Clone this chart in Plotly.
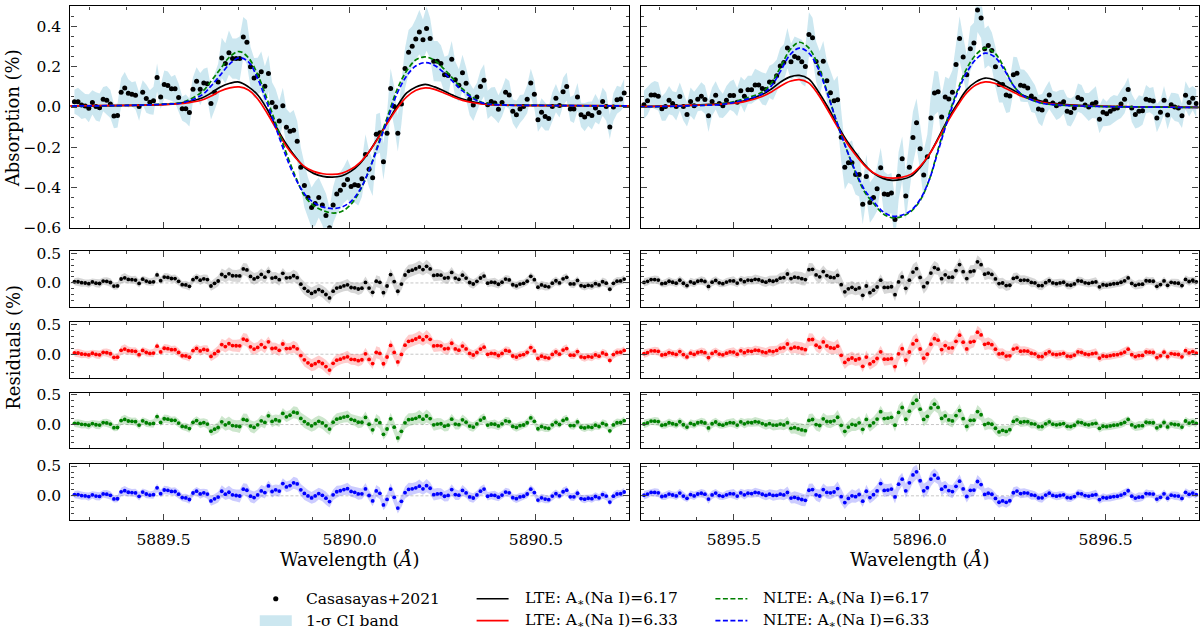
import numpy as np
import plotly.graph_objects as go

W, H = 1200, 638

# ---------------- data ----------------
LEFT_START, RIGHT_START, STEP = 5889.2607, 5895.2580, 0.00965
LEFT_CENTER, RIGHT_CENTER = 5889.953, 5895.926

LEFT_FLUX = [
    0.026, 0.026, 0.010, 0.005, -0.006, 0.023, 0.003, -0.003, 0.039, 0.034,
    0.015, -0.045, -0.042, 0.074, 0.094, 0.068, 0.063, 0.058, 0.002, 0.073,
    0.042, 0.024, 0.031, 0.147, 0.050, 0.112, 0.107, 0.091, 0.091, 0.047,
    -0.008, -0.008, -0.027, 0.089, 0.128, 0.089, 0.120, 0.116, 0.018, 0.074,
    0.125, 0.244, 0.217, 0.270, 0.241, 0.241, 0.241, 0.348, 0.322, 0.200,
    0.144, 0.155, 0.176, 0.103, 0.167, 0.023, 0.000, -0.070, 0.006, -0.100,
    -0.120, -0.115, -0.170, -0.300, -0.390, -0.450, -0.500, -0.480, -0.450, -0.487,
    -0.540, -0.600, -0.487, -0.433, -0.414, -0.386, -0.360, -0.395, -0.386, -0.390,
    -0.357, -0.236, -0.309, -0.352, -0.136, -0.128, -0.272, -0.130, 0.092, 0.002,
    -0.131, 0.015, 0.192, 0.273, 0.302, 0.338, 0.373, 0.335, 0.390, 0.341,
    0.228, 0.228, 0.217, 0.160, 0.157, 0.238, 0.136, 0.108, 0.170, 0.118,
    0.039, 0.010, 0.050, 0.102, 0.133, 0.011, 0.027, 0.020, -0.011, 0.023,
    0.074, 0.060, -0.021, -0.039, -0.010, 0.002, 0.039, 0.120, 0.063, -0.063,
    -0.026, -0.047, -0.057, 0.003, 0.044, 0.008, 0.076, 0.102, -0.010, -0.010,
    0.050, -0.039, -0.050, -0.034, -0.042, -0.005, -0.027, 0.027, 0.002, -0.099,
    0.000, 0.036, 0.040, 0.070]

LEFT_ERR = [
    0.06, 0.07, 0.07, 0.06, 0.07, 0.06, 0.07, 0.07, 0.06, 0.07, 0.07, 0.06, 0.06, 0.07, 0.08, 0.07, 0.06, 0.07, 0.07, 0.06,
    0.07, 0.06, 0.07, 0.07, 0.06, 0.07, 0.07, 0.06, 0.07, 0.07, 0.06, 0.07, 0.07, 0.06, 0.07, 0.08, 0.07, 0.08, 0.08, 0.09,
    0.09, 0.10, 0.10, 0.11, 0.10, 0.10, 0.11, 0.10, 0.11, 0.10, 0.10, 0.09, 0.10, 0.10, 0.09, 0.10, 0.09, 0.10, 0.09, 0.09,
    0.09, 0.10, 0.10, 0.10, 0.11, 0.10, 0.10, 0.11, 0.10, 0.10, 0.11, 0.10, 0.09, 0.10, 0.09, 0.09, 0.10, 0.09, 0.09, 0.10,
    0.09, 0.10, 0.09, 0.09, 0.10, 0.10, 0.09, 0.10, 0.10, 0.10, 0.09, 0.10, 0.10, 0.11, 0.10, 0.10, 0.11, 0.10, 0.11, 0.10,
    0.10, 0.10, 0.09, 0.09, 0.10, 0.09, 0.09, 0.08, 0.09, 0.08, 0.08, 0.08, 0.07, 0.08, 0.08, 0.07, 0.07, 0.08, 0.07, 0.07,
    0.07, 0.07, 0.06, 0.07, 0.07, 0.06, 0.07, 0.07, 0.07, 0.06, 0.07, 0.07, 0.06, 0.07, 0.07, 0.06, 0.07, 0.07, 0.06, 0.07,
    0.07, 0.06, 0.07, 0.06, 0.07, 0.07, 0.06, 0.07, 0.07, 0.06, 0.07, 0.07, 0.06, 0.07]

RIGHT_FLUX = [
    0.011, 0.031, 0.060, 0.060, 0.053, -0.008, 0.002, 0.034, 0.018, 0.003,
    0.052, 0.002, -0.037, 0.027, 0.006, 0.039, 0.053, 0.037, -0.044, 0.027,
    0.058, 0.018, 0.006, 0.034, 0.057, 0.057, 0.024, 0.081, 0.053, 0.086,
    0.086, 0.110, 0.110, 0.092, 0.087, 0.125, 0.125, 0.155, 0.204, 0.222,
    0.293, 0.225, 0.251, 0.244, 0.225, 0.202, 0.361, 0.344, 0.226, 0.168,
    0.228, 0.131, 0.071, 0.031, 0.036, -0.150, -0.300, -0.277, -0.277, -0.335,
    -0.335, -0.483, -0.346, -0.475, -0.450, -0.407, -0.302, -0.432, -0.435, -0.428,
    -0.560, -0.344, -0.257, -0.443, -0.300, -0.152, -0.078, -0.207, -0.338, -0.247,
    -0.055, 0.070, 0.076, -0.050, 0.050, 0.040, 0.073, 0.212, 0.341, 0.249,
    0.160, 0.290, 0.319, 0.483, 0.443, 0.290, 0.306, 0.281, 0.200, 0.112,
    0.112, 0.060, 0.055, 0.160, 0.168, 0.108, 0.105, 0.095, 0.055,
    0.040, -0.010, -0.015, 0.030, 0.060, 0.020, 0.006, 0.015, 0.026, -0.021,
    -0.027, -0.005, 0.047, 0.039, 0.010, 0.000, 0.015, 0.023, -0.061, -0.026,
    -0.034, -0.021, -0.010, -0.005, 0.015, 0.039, 0.087, -0.005, -0.037, -0.021,
    -0.018, 0.039, 0.034, 0.030, -0.055, -0.026, 0.034, -0.040, 0.011, 0.000,
    -0.005, -0.044, 0.058, 0.023, 0.044, 0.018]

RIGHT_ERR = [
    0.07, 0.07, 0.06, 0.07, 0.07, 0.06, 0.07, 0.07, 0.06, 0.07, 0.07, 0.07, 0.06, 0.07, 0.07, 0.06, 0.07, 0.07, 0.08, 0.07,
    0.07, 0.07, 0.06, 0.07, 0.07, 0.08, 0.07, 0.07, 0.08, 0.07, 0.07, 0.08, 0.07, 0.08, 0.08, 0.08, 0.09, 0.08, 0.09, 0.09,
    0.10, 0.09, 0.10, 0.10, 0.11, 0.10, 0.11, 0.10, 0.10, 0.11, 0.10, 0.10, 0.11, 0.10, 0.12, 0.12, 0.11, 0.10, 0.11, 0.10,
    0.11, 0.10, 0.11, 0.10, 0.10, 0.11, 0.10, 0.11, 0.10, 0.10, 0.11, 0.12, 0.11, 0.12, 0.12, 0.13, 0.12, 0.11, 0.12, 0.11,
    0.12, 0.11, 0.10, 0.11, 0.10, 0.10, 0.11, 0.10, 0.11, 0.10, 0.10, 0.11, 0.10, 0.11, 0.10, 0.10, 0.10, 0.09, 0.10, 0.09,
    0.09, 0.09, 0.08, 0.09, 0.08, 0.08, 0.08, 0.07, 0.08, 0.07, 0.07, 0.08, 0.07, 0.07, 0.06, 0.07, 0.07, 0.06, 0.07, 0.07,
    0.06, 0.07, 0.07, 0.06, 0.07, 0.07, 0.08, 0.07, 0.07, 0.06, 0.07, 0.07, 0.06, 0.07, 0.07, 0.06, 0.07, 0.07, 0.08, 0.07,
    0.07, 0.06, 0.07, 0.07, 0.06, 0.07, 0.07, 0.06, 0.07, 0.07, 0.06, 0.07, 0.07, 0.06, 0.07]

# model grid: offsets from line centre (Angstrom)
MODEL_DL = [-0.72, -0.55, -0.45, -0.40, -0.35, -0.325, -0.30, -0.275, -0.25, -0.225,
            -0.20, -0.175, -0.15, -0.125, -0.10, -0.075, -0.05, -0.025, 0.0, 0.025,
            0.05, 0.075, 0.10, 0.125, 0.15, 0.175, 0.20, 0.225, 0.25, 0.275,
            0.30, 0.325, 0.35, 0.40, 0.45, 0.55, 0.84]

LEFT_LTE_617 = [0.005, 0.008, 0.013, 0.022, 0.045, 0.07, 0.10, 0.118, 0.124, 0.10,
                0.06, -0.01, -0.10, -0.18, -0.245, -0.30, -0.33, -0.345, -0.349, -0.343,
                -0.32, -0.28, -0.22, -0.147, -0.07, 0.005, 0.07, 0.10, 0.113, 0.10,
                0.08, 0.058, 0.04, 0.018, 0.01, 0.008, 0.005]
LEFT_LTE_633 = [0.005, 0.008, 0.012, 0.018, 0.035, 0.055, 0.08, 0.095, 0.10, 0.085,
                0.04, -0.03, -0.11, -0.19, -0.25, -0.295, -0.32, -0.332, -0.335, -0.33,
                -0.31, -0.275, -0.22, -0.15, -0.075, -0.005, 0.05, 0.083, 0.095, 0.088,
                0.07, 0.05, 0.033, 0.015, 0.01, 0.007, 0.005]
LEFT_NLTE_617 = [0.005, 0.008, 0.015, 0.025, 0.075, 0.13, 0.19, 0.25, 0.276, 0.245,
                 0.16, 0.04, -0.09, -0.22, -0.34, -0.44, -0.49, -0.515, -0.527, -0.52,
                 -0.485, -0.415, -0.31, -0.175, -0.04, 0.09, 0.18, 0.235, 0.249, 0.232,
                 0.19, 0.14, 0.09, 0.025, 0.012, 0.008, 0.005]
LEFT_NLTE_633 = [0.005, 0.008, 0.014, 0.022, 0.06, 0.105, 0.16, 0.215, 0.245, 0.225,
                 0.14, 0.02, -0.11, -0.24, -0.35, -0.43, -0.475, -0.497, -0.505, -0.498,
                 -0.47, -0.41, -0.31, -0.185, -0.055, 0.07, 0.155, 0.205, 0.221, 0.207,
                 0.17, 0.125, 0.08, 0.022, 0.011, 0.008, 0.005]

RIGHT_LTE_617 = [0.0, 0.008, 0.018, 0.03, 0.062, 0.09, 0.125, 0.15, 0.157, 0.14,
                 0.08, 0.005, -0.08, -0.16, -0.225, -0.285, -0.33, -0.355, -0.365, -0.36,
                 -0.345, -0.30, -0.235, -0.15, -0.06, 0.015, 0.085, 0.125, 0.144, 0.135,
                 0.11, 0.085, 0.06, 0.03, 0.015, 0.005, -0.002]
RIGHT_LTE_633 = [0.0, 0.008, 0.016, 0.026, 0.052, 0.075, 0.105, 0.128, 0.136, 0.12,
                 0.065, -0.01, -0.09, -0.17, -0.235, -0.29, -0.328, -0.348, -0.354, -0.35,
                 -0.335, -0.295, -0.235, -0.155, -0.07, 0.005, 0.07, 0.11, 0.125, 0.118,
                 0.097, 0.075, 0.052, 0.025, 0.012, 0.004, -0.002]
RIGHT_NLTE_617 = [0.0, 0.006, 0.018, 0.04, 0.075, 0.12, 0.2, 0.285, 0.322, 0.295,
                  0.21, 0.075, -0.07, -0.2, -0.32, -0.42, -0.48, -0.53, -0.551, -0.545,
                  -0.52, -0.465, -0.36, -0.2, -0.05, 0.08, 0.19, 0.26, 0.293, 0.27,
                  0.2, 0.11, 0.06, 0.02, 0.01, 0.003, -0.002]
RIGHT_NLTE_633 = [0.0, 0.006, 0.015, 0.035, 0.065, 0.105, 0.18, 0.26, 0.293, 0.27,
                  0.195, 0.07, -0.07, -0.2, -0.315, -0.41, -0.47, -0.52, -0.543, -0.538,
                  -0.515, -0.46, -0.36, -0.21, -0.06, 0.07, 0.17, 0.237, 0.268, 0.25,
                  0.19, 0.11, 0.06, 0.02, 0.01, 0.003, -0.002]

MODEL_LABELS = ["LTE: A<sub>∗</sub>(Na I)=6.17", "LTE: A<sub>∗</sub>(Na I)=6.33",
                "NLTE: A<sub>∗</sub>(Na I)=6.17", "NLTE: A<sub>∗</sub>(Na I)=6.33"]
DATA_LABEL = "Casasayas+2021"
BAND_LABEL = "1-σ CI band"
XRANGES = [[5889.25, 5890.75], [5895.25, 5896.75]]
XTICK0 = [5889.5, 5895.5]

# ---------------- styles ----------------
FONT = "DejaVu Serif"
COLORS = ["black", "red", "green", "blue"]
DASHES = ["solid", "solid", "5px,2.5px", "5px,2.5px"]
BANDS = ["rgba(128,128,128,0.32)", "rgba(255,0,0,0.2)", "rgba(0,128,0,0.2)", "rgba(0,0,255,0.2)"]
CI_BAND = "rgba(173,216,230,0.62)"

def px_x(a, b):
    return [a / W, b / W]

def px_y(top, bot):
    return [1 - bot / H, 1 - top / H]

XDOM = [px_x(70.5, 629.5), px_x(641.5, 1199.5)]
YDOM = [px_y(0.5, 227), px_y(251, 308), px_y(324, 381), px_y(396, 453), px_y(469, 526)]

panels = [
    dict(start=LEFT_START, center=LEFT_CENTER, flux=LEFT_FLUX, err=LEFT_ERR,
         models=[LEFT_LTE_617, LEFT_LTE_633, LEFT_NLTE_617, LEFT_NLTE_633]),
    dict(start=RIGHT_START, center=RIGHT_CENTER, flux=RIGHT_FLUX, err=RIGHT_ERR,
         models=[RIGHT_LTE_617, RIGHT_LTE_633, RIGHT_NLTE_617, RIGHT_NLTE_633]),
]

fig = go.Figure()

def axref(k):
    s = "" if k == 1 else str(k)
    return "x" + s, "y" + s

def band(x, lo, hi, color, k):
    xr, yr = axref(k)
    return go.Scatter(x=np.concatenate([x, x[::-1]]), y=np.concatenate([hi, lo[::-1]]),
                      fill="toself", fillcolor=color, line=dict(width=0), mode="lines",
                      xaxis=xr, yaxis=yr, hoverinfo="skip", showlegend=False)

for c, p in enumerate(panels):
    flux = np.array(p["flux"])
    err = np.array(p["err"])
    wl = p["start"] + STEP * np.arange(len(flux))
    mwl = p["center"] + np.array(MODEL_DL)
    k = 1 + c
    xr, yr = axref(k)
    fig.add_trace(band(wl, flux - err, flux + err, CI_BAND, k))
    fig.add_trace(go.Scatter(x=wl, y=flux, mode="markers", marker=dict(color="black", size=5),
                             xaxis=xr, yaxis=yr, showlegend=False, hoverinfo="skip"))
    for m, model in enumerate(p["models"]):
        fig.add_trace(go.Scatter(x=mwl, y=model, mode="lines",
                                 line=dict(color=COLORS[m], width=1.7, dash=DASHES[m], shape="spline"),
                                 xaxis=xr, yaxis=yr, showlegend=False, hoverinfo="skip"))
    for m, model in enumerate(p["models"]):
        res = flux - np.interp(wl, mwl, np.array(model))
        kk = (m + 1) * 2 + c + 1
        xr2, yr2 = axref(kk)
        fig.add_trace(band(wl, res - err, res + err, BANDS[m], kk))
        fig.add_trace(go.Scatter(x=wl, y=res, mode="markers", marker=dict(color=COLORS[m], size=3.8),
                                 xaxis=xr2, yaxis=yr2, showlegend=False, hoverinfo="skip"))

layout = dict(width=W, height=H, margin=dict(l=0, r=0, t=0, b=0),
              paper_bgcolor="white", plot_bgcolor="white", showlegend=False,
              font=dict(family=FONT, size=15, color="black"))
shapes = []
for r in range(5):
    for c in range(2):
        k = r * 2 + c + 1
        s = "" if k == 1 else str(k)
        layout["xaxis" + s] = dict(
            domain=XDOM[c], range=XRANGES[c], anchor="y" + s, showline=True, linecolor="black",
            linewidth=1.2, mirror="allticks", ticks="inside", ticklen=6, tickwidth=1.1,
            tick0=XTICK0[c], dtick=0.5, tickformat=".1f", showticklabels=(r == 4),
            showgrid=False, zeroline=False, ticklabelstandoff=6,
            tickfont=dict(family=FONT, size=15.5, color="black"),
            minor=dict(dtick=0.1, tick0=XTICK0[c], ticks="inside", ticklen=3, tickwidth=0.9, showgrid=False))
        if r == 0:
            yrng, ydt, ymin = [-0.6, 0.5], 0.2, 0.05
        else:
            yrng, ydt, ymin = [-0.4, 0.535], 0.5, 0.1
        layout["yaxis" + s] = dict(
            domain=YDOM[r], range=yrng, anchor="x" + s, showline=True, linecolor="black",
            linewidth=1.2, mirror="allticks", ticks="inside", ticklen=6, tickwidth=1.1,
            tick0=0, dtick=ydt, tickformat=".1f", showticklabels=(c == 0),
            showgrid=False, zeroline=False, ticklabelstandoff=5,
            tickfont=dict(family=FONT, size=15.5, color="black"),
            minor=dict(dtick=ymin, tick0=0, ticks="inside", ticklen=3, tickwidth=0.9, showgrid=False))
        if r > 0:
            shapes.append(dict(type="line", xref=("x" + s + " domain"), yref="y" + s,
                               x0=0, x1=1, y0=0, y1=0, layer="below",
                               line=dict(color="#b8b8b8", width=0.8, dash="3px,2px")))

def P(x, y):
    return x / W, 1 - y / H

annotations = []
def txt(x, y, t, size=15, angle=0, xanchor="left"):
    xx, yy = P(x, y)
    annotations.append(dict(x=xx, y=yy, xref="paper", yref="paper", text=t, showarrow=False,
                            textangle=angle, xanchor=xanchor, yanchor="middle",
                            font=dict(family=FONT, size=size, color="black")))

txt(12, 115, "Absorption (%)", 18, -90, "center")
txt(14, 349, "Residuals (%)", 18, -90, "center")
txt(350, 567, "Wavelength (<i>Å</i>)", 18, 0, "center")
txt(920.5, 567, "Wavelength (<i>Å</i>)", 18, 0, "center")

# legend (drawn manually)
R1, R2 = 607, 629.5
shapes.append(dict(type="circle", xref="paper", yref="paper", x0=(276 - 2.6) / W, x1=(276 + 2.6) / W,
                   y0=1 - (R1 + 2.6) / H, y1=1 - (R1 - 2.6) / H, fillcolor="black", line=dict(width=0)))
shapes.append(dict(type="rect", xref="paper", yref="paper", x0=260 / W, x1=292 / W,
                   y0=1 - 635 / H, y1=1 - 624 / H, fillcolor=CI_BAND, line=dict(width=0)))
txt(304, R1, DATA_LABEL, 15.5)
txt(304, R2, BAND_LABEL, 15.5)
leg_pos = [(477, R1), (477, R2), (716, R1), (716, R2)]
for m, (lx, ly) in enumerate(leg_pos):
    shapes.append(dict(type="line", xref="paper", yref="paper", x0=lx / W, x1=(lx + 32) / W,
                       y0=1 - ly / H, y1=1 - ly / H,
                       line=dict(color=COLORS[m], width=1.7, dash=DASHES[m])))
    txt(lx + 46, ly, MODEL_LABELS[m], 15.5)

layout["shapes"] = shapes
layout["annotations"] = annotations
fig.update_layout(**layout)
fig.write_html("out.html")
